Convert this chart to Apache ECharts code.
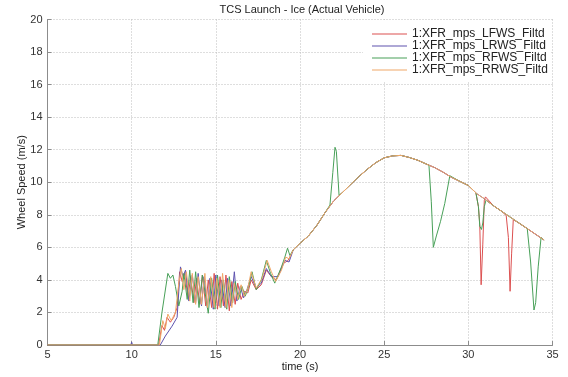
<!DOCTYPE html>
<html>
<head>
<meta charset="utf-8">
<title>TCS Launch - Ice (Actual Vehicle)</title>
<style>
  * { margin: 0; padding: 0; }
  body { background-color: #ffffff; }
  #chart { width: 568px; height: 377px; }
</style>
</head>
<body>
<div id="chart"></div>
<script src="https://cdn.jsdelivr.net/npm/echarts@6/dist/echarts.min.js"></script>
<script>
// axis ranges (time in s, wheel speed in m/s)
const timeMin = 5, timeMax = 35, timeStep = 5;
const speedMin = 0, speedMax = 20, speedStep = 2;

const seriesNames = [
  '1:XFR_mps_LFWS_Filtd',
  '1:XFR_mps_LRWS_Filtd',
  '1:XFR_mps_RFWS_Filtd',
  '1:XFR_mps_RRWS_Filtd',
];

// launch / slip phase, [time, speed]
const lfwsLaunch = [[5,0],[11.6,0],[11.8,1.2],[11.95,0.9],[12.1,1.7],[12.3,1.4],[12.5,1.7],[12.7,2.3],[12.85,4.5],[13.0,3.9],[13.15,4.4],[13.35,2.9],[13.5,4.2],[13.7,2.6],[13.85,4.1],[14.05,2.5],[14.2,4.3],[14.4,2.4],[14.55,4.0],[14.75,2.3],[14.9,4.4],[15.1,2.2],[15.25,4.2],[15.45,2.4],[15.6,4.3],[15.8,2.1],[15.95,3.9],[16.15,2.5],[16.3,3.8],[16.5,2.8],[16.7,3.3],[16.9,3.2],[17.1,4.0],[17.4,3.4],[17.7,3.7],[18.0,4.6],[18.3,4.2],[18.6,4.0],[19.0,5.0],[19.3,5.2],[19.6,5.85]];
const lrwsLaunch = [[5,0],[9.95,0],[10.0,0.18],[10.05,0],[11.7,0],[12.0,0.55],[12.4,1.16],[12.7,1.7],[12.8,3.3],[12.9,4.8],[13.05,4.2],[13.2,4.6],[13.4,2.7],[13.6,4.3],[13.8,2.6],[13.95,4.4],[14.15,2.4],[14.3,4.2],[14.5,2.3],[14.65,4.1],[14.85,2.2],[15.0,4.3],[15.2,2.4],[15.35,4.0],[15.55,2.3],[15.7,4.1],[15.9,2.4],[16.1,4.5],[16.25,2.7],[16.45,3.6],[16.65,2.9],[16.85,3.4],[17.1,4.2],[17.4,3.5],[17.7,3.8],[18.0,4.7],[18.3,4.2],[18.7,4.2],[19.1,5.2],[19.35,5.1],[19.6,5.85]];
const rfwsLaunch = [[5,0],[11.55,0],[11.8,2.0],[12.15,4.4],[12.3,4.1],[12.45,4.3],[12.6,3.6],[12.8,2.4],[13.0,3.3],[13.1,4.4],[13.3,2.8],[13.45,4.6],[13.65,2.6],[13.8,4.5],[14.0,2.3],[14.2,4.3],[14.55,1.95],[14.75,4.1],[14.95,2.2],[15.1,4.3],[15.3,2.3],[15.45,4.0],[15.65,2.2],[15.8,4.2],[16.0,2.6],[16.15,3.9],[16.35,2.8],[16.55,3.6],[16.75,3.0],[16.95,3.6],[17.15,4.5],[17.4,3.4],[17.7,4.0],[18.0,5.2],[18.25,4.4],[18.5,3.8],[18.9,4.8],[19.1,5.4],[19.26,5.95],[19.4,5.5],[19.6,5.85]];
const rrwsLaunch = [[5,0],[11.65,0],[11.85,1.5],[12.0,1.0],[12.15,1.9],[12.35,1.5],[12.6,2.0],[12.8,3.8],[12.95,4.7],[13.1,3.4],[13.25,4.5],[13.45,2.7],[13.6,4.4],[13.8,2.5],[13.95,4.2],[14.15,2.5],[14.35,4.4],[14.5,2.3],[14.7,4.2],[14.9,2.3],[15.05,4.1],[15.25,2.3],[15.4,4.4],[15.6,2.3],[15.75,4.0],[15.95,2.3],[16.1,3.8],[16.3,2.8],[16.5,3.7],[16.7,3.0],[16.9,3.5],[17.1,4.5],[17.4,3.5],[17.75,4.1],[18.05,5.2],[18.3,4.5],[18.55,3.9],[18.9,4.6],[19.15,5.4],[19.35,5.3],[19.6,5.85]];

// all four wheels follow the same trace after ~20 s
const rampCommon = [[20.0,6.25],[20.5,6.7],[21.0,7.35],[21.5,8.15],[22.0,8.85],[22.5,9.35],[23.0,9.85],[23.5,10.35],[24.0,10.8],[24.5,11.2],[25.0,11.5],[25.5,11.62],[26.0,11.65],[26.5,11.52],[27.0,11.35],[27.5,11.12],[28.0,10.9],[28.5,10.62],[29.0,10.3],[29.5,10.05],[30.0,9.8],[30.5,9.3],[31.0,8.95],[31.5,8.55],[32.0,8.2],[32.5,7.85],[33.0,7.5],[33.5,7.15],[34.0,6.8],[34.5,6.45]];

// individual spikes / dips
const rfwsSpike = [[21.78,8.6],[21.95,10.6],[22.08,12.15],[22.16,11.9],[22.32,9.2]];
const rfwsDip1 = [[27.66,11.05],[27.8,8.8],[27.92,6.0],[28.1,6.7],[28.35,7.6],[28.6,8.7],[28.9,10.4]];
const rfwsDip2 = [[30.45,9.35],[30.6,8.5],[30.68,7.3],[30.78,7.1],[30.86,7.5],[30.95,8.5],[31.05,8.9]];
const rfwsDip3 = [[33.5,7.15],[33.7,5.1],[33.9,2.15],[34.0,2.6],[34.15,4.8],[34.32,6.6]];
const lfwsDip1 = [[30.45,9.35],[30.6,8.5],[30.68,7.4],[30.76,3.7],[30.86,6.2],[30.95,8.9],[31.02,9.1]];
const lfwsDip2 = [[32.25,7.95],[32.38,6.6],[32.48,3.3],[32.57,5.6],[32.67,7.7]];

const lineColors = ['#dc5050', '#5e52ae', '#48a058', '#f0a868'];

/**
 * splice events into the shared trace
 */
const withEvents = (base, events) => {
  let pts = base.slice();
  events.forEach(ev => {
    const t0 = ev[0][0];
    const t1 = ev[ev.length - 1][0];
    pts = pts.filter(p => p[0] < t0 || p[0] > t1).concat(ev);
  });
  return pts.sort((a, b) => a[0] - b[0]);
};

const seriesData = [
  lfwsLaunch.concat(withEvents(rampCommon, [lfwsDip1, lfwsDip2])),
  lrwsLaunch.concat(rampCommon),
  rfwsLaunch.concat(withEvents(rampCommon, [rfwsSpike, rfwsDip1, rfwsDip2, rfwsDip3])),
  rrwsLaunch.concat(rampCommon),
];

const FONT = '"Liberation Sans", Arial, sans-serif';
const gridLine = { show: true, lineStyle: { color: '#bcbcbc', type: [1, 2], width: 1 } };

const chart = echarts.init(document.getElementById('chart'), null, { renderer: 'canvas' });

const option = {
  backgroundColor: '#ffffff',
  animation: false,
  textStyle: { fontFamily: FONT },
  title: {
    text: 'TCS Launch - Ice (Actual Vehicle)',
    left: 297,
    top: -1,
    textAlign: 'center',
    textStyle: { fontSize: 11, fontWeight: 'normal', color: '#222', fontFamily: FONT },
  },
  grid: { left: 47.5, right: 15.5, top: 19.5, bottom: 30, containLabel: false },
  legend: {
    data: seriesNames,
    orient: 'vertical',
    left: 363,
    top: 20,
    padding: [8, 3, 6, 9],
    icon: 'rect',
    itemWidth: 35,
    itemHeight: 1,
    itemGap: 0,
    backgroundColor: '#ffffff',
    textStyle: { fontSize: 12, color: '#222', lineHeight: 9.7, fontFamily: FONT },
  },
  xAxis: {
    type: 'value',
    min: timeMin,
    max: timeMax,
    interval: timeStep,
    name: 'time (s)',
    nameLocation: 'middle',
    nameGap: 16,
    nameMoveOverlap: false,
    nameTextStyle: { fontSize: 11, color: '#222' },
    axisLine: { show: true, lineStyle: { color: '#8c8c8c', width: 1 } },
    axisTick: { show: true, inside: true, length: 4, lineStyle: { color: '#8c8c8c' } },
    axisLabel: { fontSize: 11, color: '#333', margin: 4 },
    splitLine: gridLine,
  },
  yAxis: {
    type: 'value',
    min: speedMin,
    max: speedMax,
    interval: speedStep,
    name: 'Wheel Speed (m/s)',
    nameLocation: 'middle',
    nameRotate: 90,
    nameGap: 20,
    nameMoveOverlap: false,
    nameTextStyle: { fontSize: 11, color: '#222' },
    axisLine: { show: true, lineStyle: { color: '#8c8c8c', width: 1 } },
    axisTick: { show: true, inside: true, length: 4, lineStyle: { color: '#8c8c8c' } },
    axisLabel: { fontSize: 11, color: '#333', margin: 5 },
    splitLine: gridLine,
  },
  series: seriesNames.map((name, i) => ({
    name: name,
    type: 'line',
    data: seriesData[i],
    symbol: 'none',
    z: 2 + i,
    lineStyle: { color: lineColors[i], width: 1 },
    itemStyle: { color: lineColors[i] },
  })),
};

chart.setOption(option);
</script>
</body>
</html>
